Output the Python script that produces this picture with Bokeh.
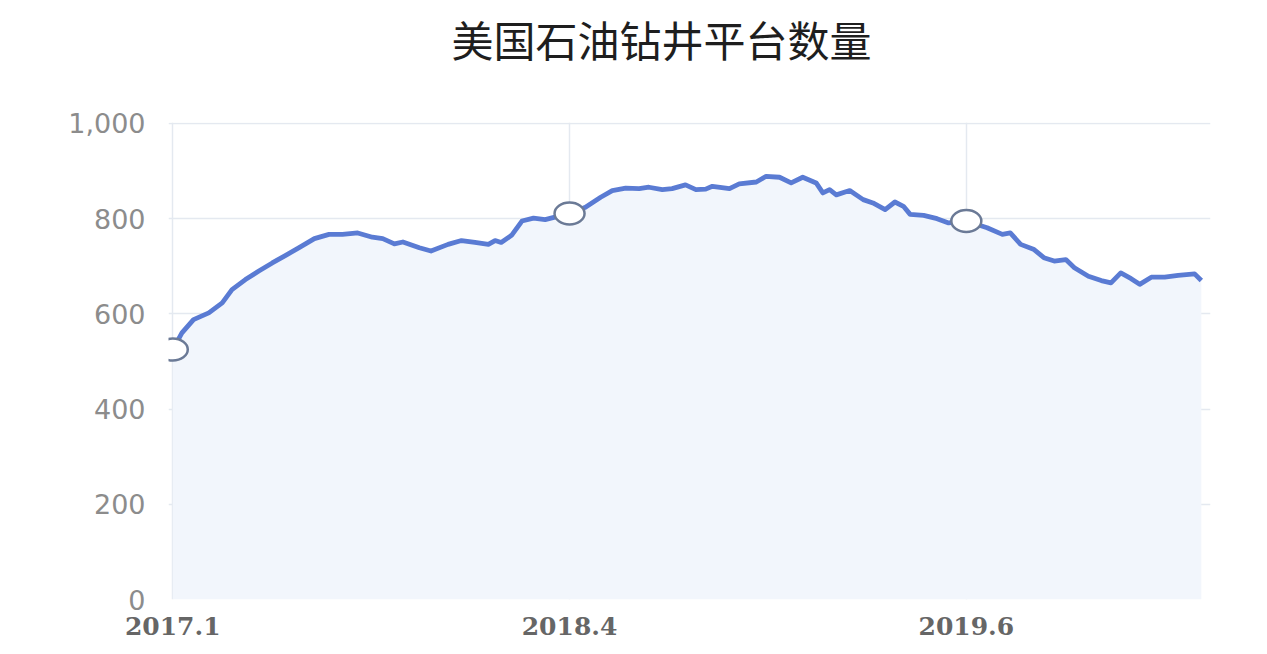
from bokeh.plotting import figure
from bokeh.models import Range1d, FixedTicker, NumeralTickFormatter, Title
from bokeh.embed import file_html
from bokeh.resources import INLINE

title_text = "美国石油钻井平台数量"

# x = weeks since first week of Jan 2017 (weekly oil rig count)
weeks = [0, 1.5, 3.4, 5.9, 8.1, 9.7, 11.9, 14.1, 16.3, 18.5,
         20.7, 23.2, 25.6, 27.8, 30.3, 32.7, 34.4, 36.3, 37.7, 40.4,
         42.3, 45.1, 47.3, 49.5, 51.7, 52.8, 53.8, 55.5, 57.2, 59.1,
         61.0, 65, 67.6, 70.1, 72.0, 74.2, 76.4, 78.0, 80.2, 81.8,
         84.0, 85.7, 87.3, 88.4, 91.2, 92.8, 95.6, 97.2, 99.4, 101.3,
         103.2, 105.4, 106.5, 107.6, 108.7, 110.9, 113.1, 114.7, 116.7, 118.3,
         119.7, 120.8, 123.0, 125.2, 127.1, 130, 133.4, 135.9, 137.2, 138.9,
         141.1, 142.7, 144.4, 146.3, 147.7, 150.0, 152.1, 153.7, 155.3, 157.0,
         158.4, 160.3, 162.5, 164.7, 167.4, 168.5]
rigs = [525, 560, 588, 602, 623, 651, 672, 690, 707, 723,
        739, 758, 767, 767, 770, 761, 758, 747, 751, 739,
        732, 746, 754, 750, 746, 754, 750, 765, 795, 801,
        798, 811, 824, 845, 859, 864, 863, 866, 861, 863,
        871, 861, 862, 868, 863, 873, 877, 889, 887, 875,
        887, 875, 854, 861, 850, 859, 840, 833, 819, 835,
        826, 809, 807, 800, 791, 795, 781, 767, 770, 746,
        735, 718, 711, 714, 697, 679, 670, 665, 686, 674,
        662, 677, 677, 681, 684, 670]

tick_weeks = [0, 65, 130]
tick_labels = ["2017.1", "2018.4", "2019.6"]
y_ticks = [0, 200, 400, 600, 800, 1000]

marker_vals = [rigs[weeks.index(w)] for w in tick_weeks]

p = figure(width=1251, height=646, output_backend="svg", toolbar_location=None,
           x_range=Range1d(-0.7, 170), y_range=Range1d(0, 1002),
           min_border_left=168, min_border_right=41,
           min_border_top=121, min_border_bottom=47)
p.outline_line_color = None
p.background_fill_color = "white"
p.border_fill_color = "white"

# blank spacer between title and plot area, then the title itself (further out)
p.add_layout(Title(text=" ", standoff=14, text_font_size="30px",
                   text_color="white"), "above")
p.add_layout(Title(text=title_text, align="left", offset=283, standoff=10,
                   text_font="Noto Sans CJK SC", text_font_size="42px",
                   text_font_style="normal", text_color="#1e1e1e"), "above")

# grid
p.xgrid.ticker = FixedTicker(ticks=tick_weeks)
p.ygrid.ticker = FixedTicker(ticks=y_ticks)
p.xgrid.grid_line_color = "#e4e9f0"
p.ygrid.grid_line_color = "#e4e9f0"
p.xgrid.grid_line_width = 1.5
p.ygrid.grid_line_width = 1.5

# x axis
xax = p.xaxis[0]
xax.ticker = FixedTicker(ticks=tick_weeks)
xax.major_label_overrides = {w: t for w, t in zip(tick_weeks, tick_labels)}
xax.axis_line_color = None
xax.major_tick_line_color = None
xax.minor_tick_line_color = None
xax.major_tick_out = 0
xax.major_label_standoff = 17
xax.major_label_text_font = "DejaVu Serif"
xax.major_label_text_font_style = "bold"
xax.major_label_text_font_size = "25px"
xax.major_label_text_color = "#666666"

# y axis
yax = p.yaxis[0]
yax.ticker = FixedTicker(ticks=y_ticks)
yax.formatter = NumeralTickFormatter(format="0,0")
yax.axis_line_color = None
yax.major_tick_line_color = None
yax.minor_tick_line_color = None
yax.major_tick_out = 0
yax.major_label_standoff = 23
yax.major_label_text_font = "DejaVu Sans"
yax.major_label_text_font_size = "27px"
yax.major_label_text_color = "#8c8c8c"

# area + line
p.varea(x=weeks, y1=0, y2=rigs, fill_color="#f2f6fc", fill_alpha=1.0)
p.line(weeks, rigs, line_color="#5a7bd3", line_width=4.8, line_join="round")

# markers
p.ellipse(x=tick_weeks, y=marker_vals, width=30, height=22,
          width_units="screen", height_units="screen",
          fill_color="white", line_color="#6b7a96", line_width=2.5)

open("out.html", "w").write(file_html(p, INLINE))
